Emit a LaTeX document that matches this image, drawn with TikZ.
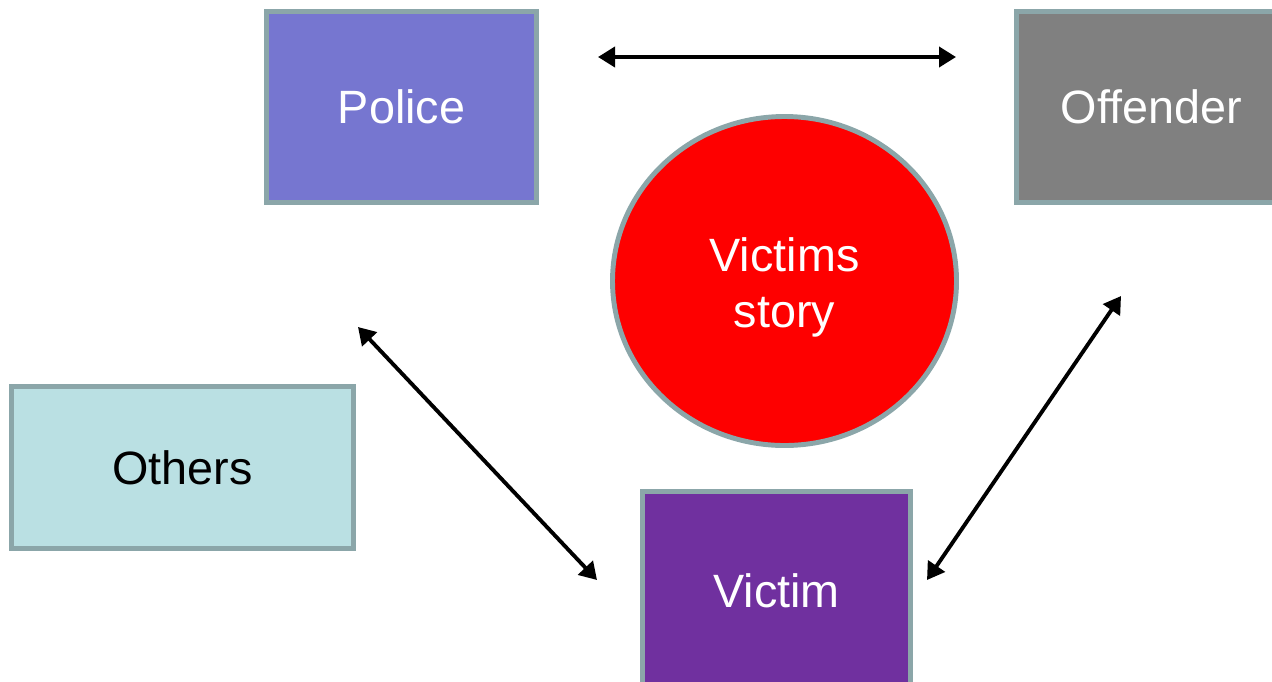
\documentclass[tikz,border=0pt]{standalone}
\usepackage{fontspec}
\setmainfont{Liberation Sans}
\usetikzlibrary{shapes.geometric}
\usetikzlibrary{arrows.meta}

\definecolor{edgegray}{HTML}{8BA6A9}
\definecolor{policeblue}{HTML}{7676D0}
\definecolor{offendergray}{HTML}{808080}
\definecolor{otherscyan}{HTML}{BAE0E3}
\definecolor{victimpurple}{HTML}{70309F}
\definecolor{storyred}{HTML}{FE0000}

\tikzset{
	party/.style={draw=edgegray, line width=2.8pt, inner sep=0pt, align=center,
		font=\fontsize{26.6}{32.3}\selectfont},
	link/.style={line width=2.2pt, {Triangle[length=0.34cm,width=0.4cm]}-{Triangle[length=0.34cm,width=0.4cm]}}
}

\begin{document}
\begin{tikzpicture}
	\useasboundingbox (0,0) rectangle (25.44,-13.62);

	\node[party, fill=policeblue, text=white, minimum width=5.4cm, minimum height=3.82cm] (police) at (8.03,-2.14) {Police};
	\node[party, fill=offendergray, text=white, minimum width=5.4cm, minimum height=3.82cm] (offender) at (23.03,-2.14) {Offender};
	\node[party, fill=otherscyan, text=black, minimum width=6.84cm, minimum height=3.24cm] (others) at (3.65,-9.35) {Others};
	\node[party, fill=victimpurple, text=white, minimum width=5.36cm, minimum height=3.96cm] (victim) at (15.53,-11.81) {Victim};
	\node[party, ellipse, fill=storyred, text=white, minimum width=6.88cm, minimum height=6.58cm] (story) at (15.69,-5.62) {\rule{0pt}{0.93cm}Victims\\story};

	\coordinate (polA) at (11.96,-1.14);
	\coordinate (offA) at (19.12,-1.14);
	\coordinate (polB) at (7.16,-6.54);
	\coordinate (vicB) at (11.94,-11.6);
	\coordinate (vicC) at (18.54,-11.6);
	\coordinate (offC) at (22.42,-5.92);

	\draw[link] (polA) -- (offA);
	\draw[link] (polB) -- (vicB);
	\draw[link] (vicC) -- (offC);
\end{tikzpicture}
\end{document}
